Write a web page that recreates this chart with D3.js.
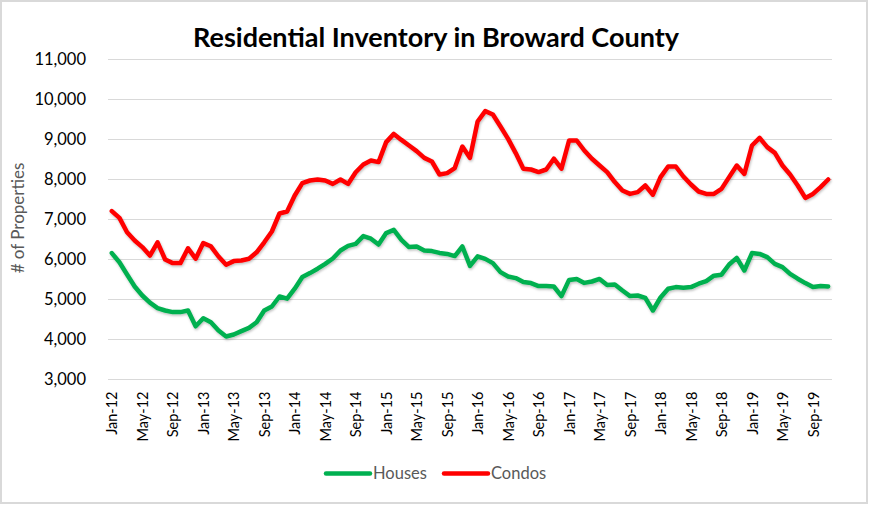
<!DOCTYPE html>
<html>

<head>
  <meta charset="utf-8" />
  <title>Residential Inventory in Broward County</title>
  <script src="https://d3js.org/d3.v7.min.js"></script>
  <style>
    body { margin: 0; background: #fff; }
    svg { font-family: Lato, "Open Sans", sans-serif; }
  </style>
</head>

<body>
  <script>
    // months Jan-12 .. Nov-19
    const months = [
      "Jan-12", "Feb-12", "Mar-12", "Apr-12", "May-12", "Jun-12", "Jul-12", "Aug-12", "Sep-12", "Oct-12", "Nov-12", "Dec-12",
      "Jan-13", "Feb-13", "Mar-13", "Apr-13", "May-13", "Jun-13", "Jul-13", "Aug-13", "Sep-13", "Oct-13", "Nov-13", "Dec-13",
      "Jan-14", "Feb-14", "Mar-14", "Apr-14", "May-14", "Jun-14", "Jul-14", "Aug-14", "Sep-14", "Oct-14", "Nov-14", "Dec-14",
      "Jan-15", "Feb-15", "Mar-15", "Apr-15", "May-15", "Jun-15", "Jul-15", "Aug-15", "Sep-15", "Oct-15", "Nov-15", "Dec-15",
      "Jan-16", "Feb-16", "Mar-16", "Apr-16", "May-16", "Jun-16", "Jul-16", "Aug-16", "Sep-16", "Oct-16", "Nov-16", "Dec-16",
      "Jan-17", "Feb-17", "Mar-17", "Apr-17", "May-17", "Jun-17", "Jul-17", "Aug-17", "Sep-17", "Oct-17", "Nov-17", "Dec-17",
      "Jan-18", "Feb-18", "Mar-18", "Apr-18", "May-18", "Jun-18", "Jul-18", "Aug-18", "Sep-18", "Oct-18", "Nov-18", "Dec-18",
      "Jan-19", "Feb-19", "Mar-19", "Apr-19", "May-19", "Jun-19", "Jul-19", "Aug-19", "Sep-19", "Oct-19", "Nov-19"
    ];

    const houses = [
      6160, 5930, 5625, 5325, 5100, 4920, 4785, 4725, 4685, 4685, 4725, 4330,
      4530, 4430, 4225, 4075, 4125, 4210, 4290, 4430, 4725, 4825, 5075, 5020,
      5270, 5560, 5660, 5770, 5890, 6025, 6225, 6340, 6390, 6585, 6520, 6375,
      6660, 6740, 6490, 6310, 6325, 6225, 6210, 6165, 6140, 6085, 6325, 5840,
      6080, 6015, 5910, 5685, 5575, 5535, 5435, 5410, 5335, 5335, 5325, 5085,
      5490, 5515, 5415, 5450, 5515, 5365, 5375, 5225, 5085, 5100, 5040, 4725,
      5050, 5270, 5310, 5295, 5310, 5395, 5460, 5595, 5620, 5875, 6040, 5725,
      6160, 6140, 6060, 5890, 5810, 5640, 5520, 5410, 5310, 5335, 5325
    ];

    const condos = [
      7210, 7040, 6680, 6475, 6310, 6100, 6430, 6000, 5910, 5910, 6280, 6020,
      6410, 6330, 6075, 5870, 5960, 5975, 6020, 6180, 6430, 6700, 7150, 7200,
      7600, 7910, 7975, 8000, 7975, 7890, 8000, 7890, 8180, 8375, 8475, 8435,
      8935, 9140, 8990, 8850, 8710, 8540, 8450, 8125, 8160, 8285, 8825, 8540,
      9450, 9710, 9625, 9325, 9015, 8660, 8270, 8250, 8185, 8250, 8520, 8270,
      8975, 8975, 8725, 8520, 8350, 8185, 7935, 7725, 7640, 7685, 7850, 7620,
      8060, 8325, 8325, 8075, 7875, 7700, 7640, 7640, 7765, 8060, 8350, 8140,
      8850, 9040, 8810, 8665, 8350, 8125, 7850, 7540, 7640, 7810, 8000
    ];

    const xTickLabels = [
      "Jan-12", "May-12", "Sep-12", "Jan-13", "May-13", "Sep-13", "Jan-14", "May-14",
      "Sep-14", "Jan-15", "May-15", "Sep-15", "Jan-16", "May-16", "Sep-16", "Jan-17",
      "May-17", "Sep-17", "Jan-18", "May-18", "Sep-18", "Jan-19", "May-19", "Sep-19"
    ];
    const yTicks = [3000, 4000, 5000, 6000, 7000, 8000, 9000, 10000, 11000];

    const series = [
      { name: "Houses", values: houses, color: "#00B050" },
      { name: "Condos", values: condos, color: "#FF0000" }
    ];

    let width = 869;
    let height = 505;
    let plotLeft = 108, plotRight = 832, plotTop = 59.5, plotBottom = 379.5;

    let svg = d3.select("body")
      .append("svg")
      .attr("width", width)
      .attr("height", height);

    // chart border
    svg.append("rect")
      .attr("x", 1).attr("y", 1)
      .attr("width", width - 3).attr("height", height - 3)
      .attr("fill", "#fff")
      .attr("stroke", "#D9D9D9")
      .attr("stroke-width", 2);

    // soft shadow under the lines
    let filter = svg.append("defs").append("filter")
      .attr("id", "shadow")
      .attr("x", "-5%").attr("y", "-5%")
      .attr("width", "110%").attr("height", "120%");
    filter.append("feDropShadow")
      .attr("dx", 0.8).attr("dy", 1.5)
      .attr("stdDeviation", 1)
      .attr("flood-color", "#000")
      .attr("flood-opacity", 0.25);

    let scaleX = d3.scalePoint()
      .domain(months)
      .range([plotLeft, plotRight])
      .padding(0.5);

    let scaleY = d3.scaleLinear()
      .domain([3000, 11000])
      .range([plotBottom, plotTop]);

    // horizontal gridlines
    svg.append("g")
      .selectAll("line")
      .data(yTicks)
      .enter()
      .append("line")
      .attr("x1", plotLeft)
      .attr("x2", plotRight)
      .attr("y1", d => scaleY(d))
      .attr("y2", d => scaleY(d))
      .attr("stroke", "#D9D9D9")
      .attr("stroke-width", 1);

    // y axis labels
    let axisY = d3.axisLeft(scaleY)
      .tickValues(yTicks)
      .tickSize(0)
      .tickPadding(22)
      .tickFormat(d3.format(","));
    let gy = svg.append("g")
      .attr("transform", `translate(${plotLeft}, 0)`)
      .call(axisY);
    gy.select(".domain").remove();
    gy.selectAll("text")
      .style("font-family", "Lato, sans-serif")
      .style("font-size", "16.5px")
      .attr("fill", "#000");

    // x axis labels, rotated
    let axisX = d3.axisBottom(scaleX)
      .tickValues(xTickLabels)
      .tickSize(0);
    let gx = svg.append("g")
      .attr("transform", `translate(0, ${plotBottom})`)
      .call(axisX);
    gx.select(".domain").remove();
    gx.selectAll("text")
      .attr("transform", "rotate(-90)")
      .attr("x", -12)
      .attr("y", 0)
      .attr("dy", "0.35em")
      .style("text-anchor", "end")
      .style("font-family", "Lato, sans-serif")
      .style("font-size", "14.5px")
      .attr("fill", "#000");

    // y axis title
    svg.append("text")
      .attr("transform", `translate(18, 218) rotate(-90)`)
      .attr("dy", "0.35em")
      .attr("text-anchor", "middle")
      .style("font-size", "17px")
      .attr("fill", "#595959")
      .text("# of Properties");

    // title
    svg.append("text")
      .attr("x", 436)
      .attr("y", 47)
      .attr("text-anchor", "middle")
      .style("font-size", "27px")
      .style("font-weight", "bold")
      .attr("fill", "#000")
      .text("Residential Inventory in Broward County");

    let lineF = d3.line()
      .x((d, i) => scaleX(months[i]))
      .y(d => scaleY(d));

    svg.append("g")
      .attr("filter", "url(#shadow)")
      .selectAll("path")
      .data(series)
      .enter()
      .append("path")
      .attr("d", d => lineF(d.values))
      .attr("fill", "none")
      .attr("stroke", d => d.color)
      .attr("stroke-width", 4.5)
      .attr("stroke-linejoin", "round")
      .attr("stroke-linecap", "round");

    // legend
    let legendX = [326, 444];
    let legend = svg.append("g")
      .selectAll("g")
      .data(series)
      .enter()
      .append("g")
      .attr("transform", (d, i) => `translate(${legendX[i]}, 473.5)`);
    legend.append("line")
      .attr("x1", 0).attr("x2", 44)
      .attr("stroke", d => d.color)
      .attr("stroke-width", 4.5)
      .attr("stroke-linecap", "round");
    legend.append("text")
      .attr("x", 47)
      .attr("dy", "0.35em")
      .style("font-size", "16.5px")
      .attr("fill", "#595959")
      .text(d => d.name);
  </script>
</body>

</html>
